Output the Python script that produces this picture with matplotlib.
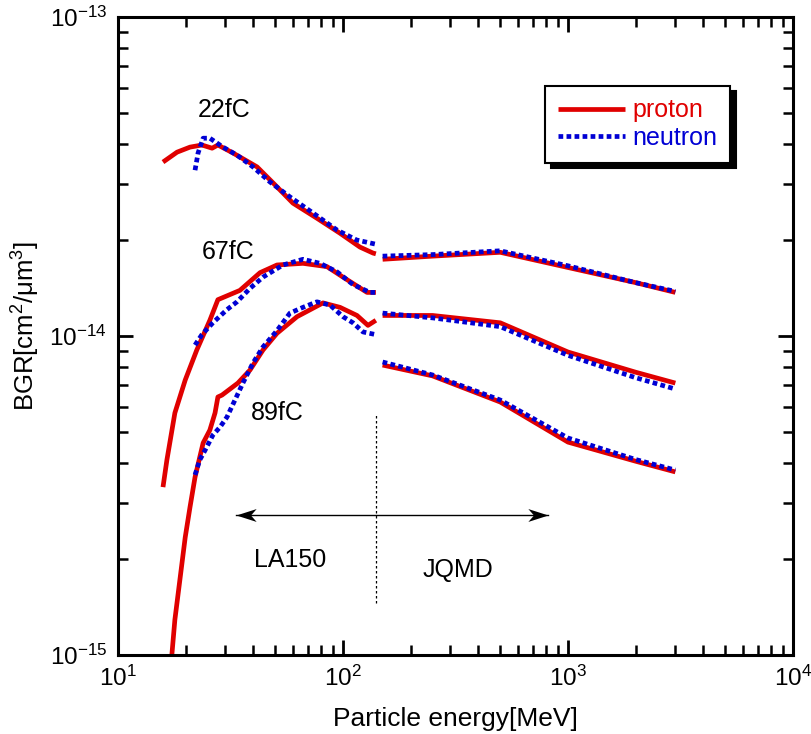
import numpy as np
import matplotlib
matplotlib.use('Agg')
import matplotlib.pyplot as plt
from matplotlib.path import Path
from matplotlib.ticker import LogLocator, NullFormatter

plt.rcParams['font.family'] = ['Liberation Sans', 'DejaVu Sans']
plt.rcParams['mathtext.fontset'] = 'custom'
plt.rcParams['mathtext.rm'] = 'Liberation Sans'
plt.rcParams['mathtext.it'] = 'Liberation Sans:italic'
plt.rcParams['axes.unicode_minus'] = False

RED = '#e00000'
BLUE = '#0000d4'

# energy [MeV] / BGR [cm^2/um^3], LA150 part (<150 MeV) and JQMD part (>=150 MeV)
e_p22_lo = [15.85, 18.3, 20.9, 23.6, 26.2, 27.8, 32.4, 41.5, 48.9, 59.9, 76.6, 97.0, 119, 136, 140]
b_p22_lo = [3.51e-14, 3.77e-14, 3.91e-14, 3.97e-14, 3.88e-14, 3.97e-14, 3.75e-14, 3.39e-14,
            3.02e-14, 2.61e-14, 2.34e-14, 2.10e-14, 1.90e-14, 1.82e-14, 1.81e-14]
e_n22_lo = [22.0, 22.7, 23.9, 25.6, 29.3, 33.8, 39.8, 47.4, 58.1, 73.6, 94.0, 115, 140]
b_n22_lo = [3.31e-14, 3.75e-14, 4.17e-14, 4.17e-14, 3.91e-14, 3.69e-14, 3.39e-14, 3.04e-14,
            2.73e-14, 2.43e-14, 2.15e-14, 2.00e-14, 1.94e-14]

e_p67_lo = [15.85, 16.5, 17.9, 19.9, 22.4, 25.6, 27.8, 34.8, 42.8, 50.9, 66.4, 84.9, 100, 127.9, 140]
b_p67_lo = [3.36e-15, 4.09e-15, 5.74e-15, 7.28e-15, 9.04e-15, 1.12e-14, 1.30e-14, 1.39e-14,
            1.58e-14, 1.67e-14, 1.69e-14, 1.65e-14, 1.53e-14, 1.37e-14, 1.37e-14]
e_n67_lo = [22.0, 23.6, 26.4, 30.5, 33.8, 38.6, 44.1, 54.1, 66.4, 79.0, 94.0, 110.8, 131.8, 140]
b_n67_lo = [9.37e-15, 1.01e-14, 1.10e-14, 1.21e-14, 1.28e-14, 1.41e-14, 1.53e-14, 1.67e-14,
            1.74e-14, 1.69e-14, 1.59e-14, 1.45e-14, 1.37e-14, 1.37e-14]

e_p89_lo = [17.2, 17.9, 19.9, 20.9, 22.0, 23.9, 25.6, 27.0, 27.8, 29.0, 34.1, 38.6, 44.1, 50.9,
            62.5, 81.5, 97.0, 115.4, 129.1, 140]
b_p89_lo = [9.3e-16, 1.29e-15, 2.34e-15, 2.91e-15, 3.61e-15, 4.62e-15, 5.07e-15, 5.74e-15,
            6.44e-15, 6.53e-15, 7.12e-15, 7.82e-15, 9.04e-15, 1.02e-14, 1.15e-14, 1.27e-14,
            1.23e-14, 1.16e-14, 1.08e-14, 1.12e-14]
e_n89_lo = [22.0, 23.1, 24.4, 26.4, 28.4, 30.5, 33.1, 35.9, 39.8, 44.1, 50.9, 58.1, 66.4, 76.6,
            87.6, 100, 110.8, 122.7, 140]
b_n89_lo = [3.67e-15, 4.09e-15, 4.39e-15, 4.89e-15, 5.18e-15, 5.57e-15, 6.30e-15, 7.12e-15,
            8.23e-15, 9.24e-15, 1.04e-14, 1.18e-14, 1.23e-14, 1.28e-14, 1.25e-14, 1.15e-14,
            1.10e-14, 1.03e-14, 1.01e-14]

e_hi = [150, 250, 500, 1000, 2000, 3000]
b_p22_hi = [1.74e-14, 1.78e-14, 1.83e-14, 1.64e-14, 1.47e-14, 1.37e-14]
b_n22_hi = [1.78e-14, 1.80e-14, 1.85e-14, 1.66e-14, 1.47e-14, 1.38e-14]
b_p67_hi = [1.16e-14, 1.16e-14, 1.10e-14, 8.91e-15, 7.70e-15, 7.12e-15]
b_n67_hi = [1.18e-14, 1.14e-14, 1.07e-14, 8.70e-15, 7.40e-15, 6.82e-15]
b_p89_hi = [8.11e-15, 7.50e-15, 6.21e-15, 4.65e-15, 4.05e-15, 3.75e-15]
b_n89_hi = [8.29e-15, 7.55e-15, 6.30e-15, 4.79e-15, 4.10e-15, 3.80e-15]

charge_labels = ['22fC', '67fC', '89fC']
label_e = [29.6, 30.8, 50.9]
label_b = [5.11e-14, 1.83e-14, 5.74e-15]

# model ranges: boundary energy and arrow span
e_boundary = 140
b_boundary = [1.46e-15, 5.74e-15]
e_arrow = [33.5, 815]
b_arrow = 2.75e-15

x_major = [10, 100, 1000, 10000]
y_major = [1e-15, 1e-14, 1e-13]

proton = [(e_p22_lo, b_p22_lo), (e_hi, b_p22_hi),
          (e_p67_lo, b_p67_lo), (e_hi, b_p67_hi),
          (e_p89_lo, b_p89_lo), (e_hi, b_p89_hi)]
neutron = [(e_n22_lo, b_n22_lo), (e_hi, b_n22_hi),
           (e_n67_lo, b_n67_lo), (e_hi, b_n67_hi),
           (e_n89_lo, b_n89_lo), (e_hi, b_n89_hi)]

fig = plt.figure(figsize=(8.12, 7.34), dpi=100)
ax = fig.add_axes([0.1453, 0.1076, 0.8313, 0.8692])

for i, (e, b) in enumerate(proton):
    ax.plot(e, b, color=RED, lw=3.4, solid_capstyle='butt',
            label='proton' if i == 0 else None)
for i, (e, b) in enumerate(neutron):
    ax.plot(e, b, color=BLUE, lw=3.4, ls=(0, (1.0, 0.7)), dash_capstyle='butt',
            label='neutron' if i == 0 else None)

ax.set_xscale('log')
ax.set_yscale('log')
ax.set_xticks(x_major)
ax.set_yticks(y_major)
ax.set_xlim(10, 1e4)
ax.set_ylim(1e-15, 1e-13)

for s, x, y in zip(charge_labels, label_e, label_b):
    ax.text(x, y, s, fontsize=18, ha='center', va='center')

# stealth-style arrow heads, tip at the origin
head_r = Path([(0, 0), (-1, 0.32), (-0.72, 0), (-1, -0.32), (0, 0)],
              [Path.MOVETO, Path.LINETO, Path.LINETO, Path.LINETO, Path.CLOSEPOLY])
head_l = Path([(0, 0), (1, 0.32), (0.72, 0), (1, -0.32), (0, 0)],
              [Path.MOVETO, Path.LINETO, Path.LINETO, Path.LINETO, Path.CLOSEPOLY])
ax.plot(e_arrow, [b_arrow, b_arrow], color='k', lw=1.0)
ax.plot(e_arrow[0], b_arrow, marker=head_l, ms=29, color='k', mew=0)
ax.plot(e_arrow[1], b_arrow, marker=head_r, ms=29, color='k', mew=0)

ax.plot([e_boundary, e_boundary], b_boundary, color='k', lw=0.9, ls=(0, (2, 2)))
ax.text(58.1, 1.99e-15, 'LA150', fontsize=18, ha='center', va='center')
ax.text(324, 1.85e-15, 'JQMD', fontsize=18, ha='center', va='center')

ax.set_xlabel('Particle energy[MeV]', fontsize=19, labelpad=11)
ax.set_ylabel('BGR[cm$^{2}$/μm$^{3}$]', fontsize=18.5)
ax.yaxis.set_label_coords(-0.112, 0.516)

for sp in ax.spines.values():
    sp.set_linewidth(2.2)
ax.xaxis.set_minor_locator(LogLocator(base=10, subs=np.arange(2, 10), numticks=10))
ax.yaxis.set_minor_locator(LogLocator(base=10, subs=np.arange(2, 10), numticks=10))
ax.xaxis.set_minor_formatter(NullFormatter())
ax.yaxis.set_minor_formatter(NullFormatter())
ax.tick_params(which='both', direction='in', top=True, right=True, labelsize=17.5)
ax.tick_params(which='major', length=11, width=2.0, pad=8)
ax.tick_params(which='minor', length=7, width=1.8)

leg = ax.legend(loc='upper left', bbox_to_anchor=(0.633, 0.892), borderaxespad=0,
                fontsize=18, handlelength=2.7, handletextpad=0.3, labelspacing=0.15,
                borderpad=0.5, fancybox=False, framealpha=1, edgecolor='k',
                labelcolor='linecolor',
                shadow={'ox': 4, 'oy': -4, 'facecolor': 'k', 'edgecolor': 'k', 'alpha': 1})
leg.get_frame().set_linewidth(1.5)

fig.savefig('out.png', dpi=100)
